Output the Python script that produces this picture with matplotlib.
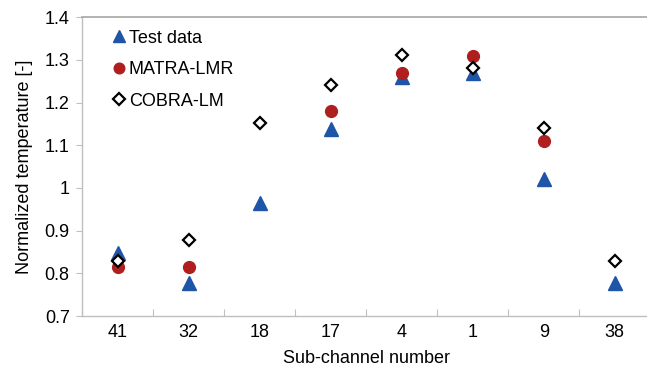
import matplotlib
matplotlib.use("Agg")
import matplotlib.pyplot as plt
import numpy as np

plt.rcParams.update({
    "font.family": ["Liberation Sans", "DejaVu Sans"],
    "font.size": 13,
})

channels = ["41", "32", "18", "17", "4", "1", "9", "38"]
test_data = [0.848, 0.778, 0.966, 1.139, 1.259, 1.268, 1.020, 0.778]
# no MATRA-LMR point shown for channels 18 and 38
matra_lmr = [0.814, 0.815, np.nan, 1.181, 1.270, 1.309, 1.110, np.nan]
cobra_lm = [0.829, 0.879, 1.151, 1.241, 1.311, 1.280, 1.141, 0.829]

C_TEST = "#1F55A6"
C_MATRA = "#B01F1F"
AXIS_GRAY = "#BFBFBF"

fig = plt.figure(figsize=(6.47, 3.80), dpi=100)
ax = fig.add_axes([0.127, 0.168, 0.878, 0.787])

x = np.arange(len(channels))
ax.plot(x, test_data, linestyle="none", marker="^", ms=10, color=C_TEST,
        mec=C_TEST, label="Test data", zorder=3)
ax.plot(x, matra_lmr, linestyle="none", marker="o", ms=8.5, color=C_MATRA,
        mec=C_MATRA, label="MATRA-LMR", zorder=4)
ax.plot(x, cobra_lm, linestyle="none", marker="D", ms=6.5, mfc="white",
        mec="black", mew=1.6, label="COBRA-LM", zorder=5)

ax.set_xlim(-0.5, len(channels) - 0.5)
ax.set_ylim(0.7, 1.4)
ax.set_yticks(np.arange(0.7, 1.41, 0.1))
ax.set_yticklabels(["0.7", "0.8", "0.9", "1", "1.1", "1.2", "1.3", "1.4"])
ax.set_xticks(x)
ax.set_xticklabels(channels)
# category separators along the bottom axis
ax.set_xticks(np.arange(-0.5, len(channels), 1.0), minor=True)
ax.tick_params(axis="x", which="major", length=0, pad=6)
ax.tick_params(axis="x", which="minor", direction="in", length=5,
               color=AXIS_GRAY, width=0.8)
ax.tick_params(axis="y", length=4, color=AXIS_GRAY, width=0.8, pad=5)

for side in ("left", "bottom"):
    ax.spines[side].set_color(AXIS_GRAY)
    ax.spines[side].set_linewidth(1.0)
ax.spines["top"].set_color("#A6A6A6")
ax.spines["top"].set_linewidth(1.2)
ax.spines["right"].set_visible(False)

ax.set_xlabel("Sub-channel number", labelpad=6)
ax.set_ylabel("Normalized temperature [-]", labelpad=8)

ax.legend(loc="upper left", bbox_to_anchor=(0.033, 1.0), frameon=False,
          handlelength=0.6, handletextpad=0.25, labelspacing=0.8,
          borderaxespad=0.3, borderpad=0.4, markerscale=0.9)

fig.savefig("out.png", dpi=100)
